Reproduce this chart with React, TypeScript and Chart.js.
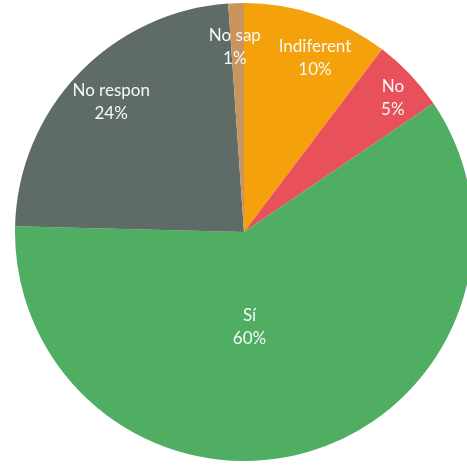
import React, { useEffect, useRef } from "react";
import { Chart, registerables } from "chart.js";

Chart.register(...registerables);

const categories = ["Indiferent", "No", "Sí", "No respon", "No sap"];
const values = [10.3, 5.2, 59.9, 23.5, 1.1];
const colors = ["#F4A10B", "#E8505A", "#4FAE62", "#5F6B67", "#C9955C"];
// label centre offsets, as fractions of the pie radius (x right, y down)
const labelOffsetX = [0.31, 0.65, 0.024, -0.58, -0.04];
const labelOffsetY = [-0.758, -0.583, 0.413, -0.568, -0.808];

const labelPlugin = {
  id: "sliceLabels",
  afterDatasetsDraw(chart: any) {
    const ctx = chart.ctx;
    const meta = chart.getDatasetMeta(0);
    const data = chart.data.datasets[0].data as number[];
    const total = data.reduce((a, b) => a + b, 0);
    ctx.save();
    ctx.fillStyle = "#F8F8F8";
    ctx.font = "17px Lato, 'Open Sans', sans-serif";
    ctx.textAlign = "center";
    ctx.textBaseline = "middle";
    meta.data.forEach((arc: any, i: number) => {
      const { x, y, outerRadius } = arc.getProps(["x", "y", "outerRadius"], true);
      const cx = x + labelOffsetX[i] * outerRadius;
      const cy = y + labelOffsetY[i] * outerRadius;
      const pct = Math.round((data[i] / total) * 100) + "%";
      ctx.fillText(chart.data.labels[i], cx, cy - 11.5);
      ctx.fillText(pct, cx, cy + 11.5);
    });
    ctx.restore();
  },
};

export default function App() {
  const ref = useRef<HTMLCanvasElement>(null);
  useEffect(() => {
    document.body.style.margin = "0";
    const chart = new Chart(ref.current!, {
      type: "pie",
      data: {
        labels: categories,
        datasets: [
          {
            data: values,
            backgroundColor: colors,
            borderWidth: 0,
          },
        ],
      },
      options: {
        responsive: false,
        animation: false,
        radius: 229,
        layout: { padding: 0 },
        plugins: {
          legend: { display: false },
          tooltip: { enabled: false },
        },
      } as any,
      plugins: [labelPlugin],
    });
    return () => chart.destroy();
  }, []);
  return (
    <div
      style={{
        position: "fixed",
        left: 0,
        top: 0,
        width: 467,
        height: 465,
        overflow: "hidden",
        background: "#FFFFFF",
      }}
    >
      <canvas ref={ref} width={488} height={464} style={{ display: "block" }} />
    </div>
  );
}
